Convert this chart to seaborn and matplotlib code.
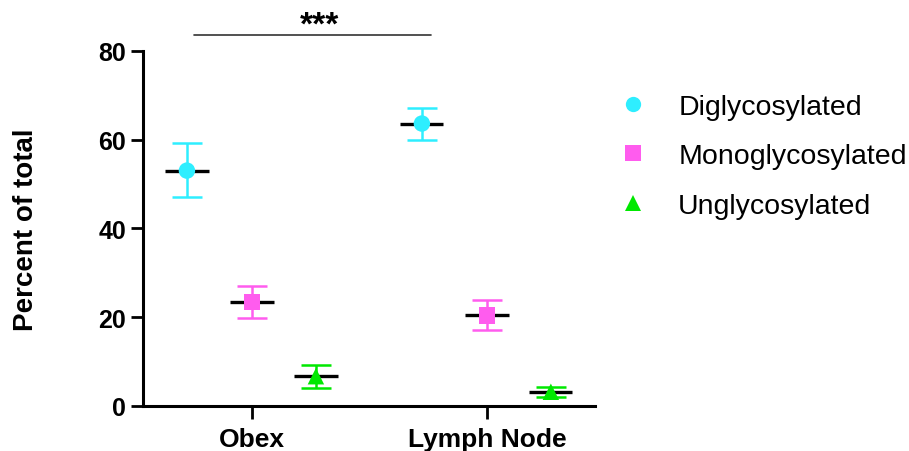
import numpy as np
import pandas as pd
import matplotlib
matplotlib.use("Agg")
import matplotlib.pyplot as plt
import seaborn as sns
from matplotlib.lines import Line2D

# Data: mean percent of total with error (upper / lower bounds)
tissues = ["Obex", "Lymph Node"]
forms = ["Diglycosylated", "Monoglycosylated", "Unglycosylated"]
means = {
    "Diglycosylated":   [53.0, 63.6],
    "Monoglycosylated": [23.4, 20.4],
    "Unglycosylated":   [6.7, 3.2],
}
upper = {
    "Diglycosylated":   [59.3, 67.2],
    "Monoglycosylated": [27.0, 23.9],
    "Unglycosylated":   [9.2, 4.3],
}
lower = {
    "Diglycosylated":   [47.0, 60.0],
    "Monoglycosylated": [19.8, 17.0],
    "Unglycosylated":   [4.1, 2.1],
}
yticks = [0, 20, 40, 60, 80]
significance = "***"

colors = {"Diglycosylated": "#2EEEFF", "Monoglycosylated": "#FF5CEE", "Unglycosylated": "#00E800"}
markers = {"Diglycosylated": "o", "Monoglycosylated": "s", "Unglycosylated": "^"}
offsets = {"Diglycosylated": -0.277, "Monoglycosylated": 0.0, "Unglycosylated": 0.272}

rows = []
for f in forms:
    for i, t in enumerate(tissues):
        rows.append({"tissue": t, "form": f, "x": i + offsets[f],
                     "mean": means[f][i], "hi": upper[f][i], "lo": lower[f][i]})
df = pd.DataFrame(rows)

sns.set_theme(style="ticks")
plt.rcParams["font.family"] = ["Liberation Sans", "DejaVu Sans"]
plt.rcParams["text.color"] = "black"
plt.rcParams["axes.labelcolor"] = "black"
plt.rcParams["xtick.color"] = "black"
plt.rcParams["ytick.color"] = "black"

fig = plt.figure(figsize=(9.09, 4.52), dpi=100)
ax = fig.add_axes([0.1573, 0.0996, 0.4973, 0.786])

# error bars and mean lines
for _, r in df.iterrows():
    c = colors[r["form"]]
    ax.errorbar(r["x"], r["mean"],
                yerr=[[r["mean"] - r["lo"]], [r["hi"] - r["mean"]]],
                fmt="none", ecolor=c, elinewidth=1.8, capsize=11, capthick=1.8, zorder=2)
    ax.hlines(r["mean"], r["x"] - 0.092, r["x"] + 0.092, color="black", lw=2.4, zorder=3)

sns.scatterplot(data=df, x="x", y="mean", hue="form", style="form",
                palette=colors, markers=markers, s=140, linewidth=0,
                ax=ax, zorder=4, legend=False)

ax.set_xlim(-0.464, 1.46)
ax.set_ylim(0, 80)
ax.set_xticks(range(len(tissues)))
ax.set_xticklabels(tissues, fontsize=19, fontweight="bold")
ax.set_yticks(yticks)
ax.set_yticklabels([str(v) for v in yticks], fontsize=18, fontweight="bold")
ax.set_xlabel("")
ax.set_ylabel("Percent of total", fontsize=20, fontweight="bold")
ax.yaxis.set_label_coords(-0.230, 0.5)
ax.tick_params(axis="x", width=2.0, length=9, color="black", pad=6)
ax.tick_params(axis="y", width=2.0, length=9, color="black", pad=3)
for s in ["left", "bottom"]:
    ax.spines[s].set_linewidth(2.2)
    ax.spines[s].set_color("black")
sns.despine(ax=ax)

# significance bar between the diglycosylated groups
x0 = offsets["Diglycosylated"] + 0.03
x1 = 1 + offsets["Diglycosylated"] + 0.04
ax.plot([x0, x1], [83.6, 83.6], color="#333333", lw=1.2, clip_on=False)
ax.text((x0 + x1) / 2 + 0.03, 83.8, significance, ha="center", va="baseline",
        fontsize=24, fontweight="bold", clip_on=False)

handles = [Line2D([0], [0], marker=markers[f], color="none", markerfacecolor=colors[f],
                  markeredgewidth=0, markersize=11, label=f) for f in forms]
fig.legend(handles=handles, loc="upper left", bbox_to_anchor=(0.649, 0.847),
           frameon=False, fontsize=20.5, labelspacing=0.83, handletextpad=1.0,
           handlelength=1.2)

fig.savefig("out.png", dpi=100)
